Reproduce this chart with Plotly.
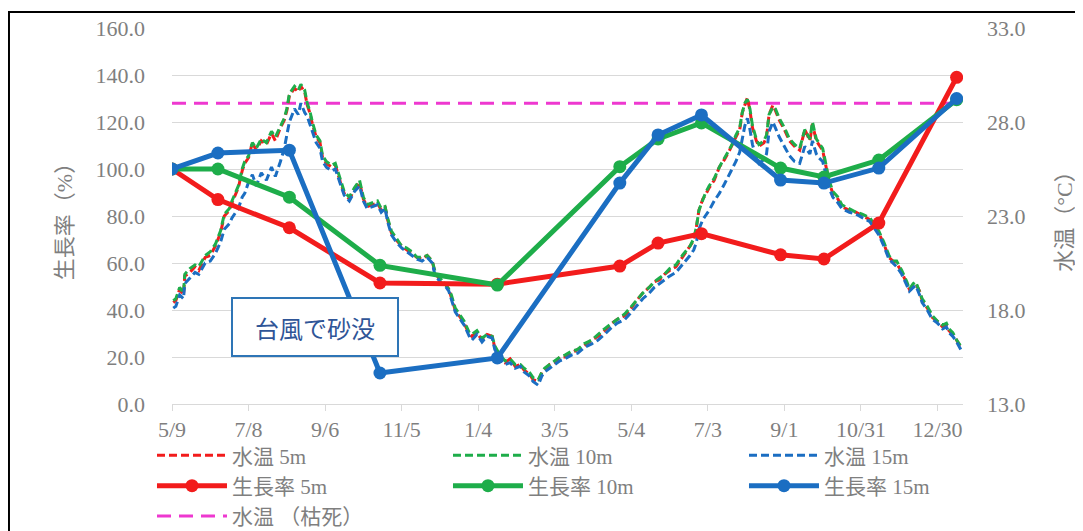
import plotly.graph_objects as go
import pandas as pd

start = pd.Timestamp("2018-05-09")

# water temperature (°C), day offsets from 5/9
temp_day = [1, 3, 6, 9, 10, 14, 18, 21, 26, 30, 34, 38, 41, 45, 47, 52, 55, 57, 60, 63,
            66, 70, 74, 78, 81, 85, 88, 90, 92, 96, 99, 101, 104, 106, 108, 110, 113, 116, 118, 121,
            125, 128, 132, 135, 139, 143, 147, 150, 153, 157, 161, 164, 167, 169, 172, 176, 180, 184, 188, 192,
            196, 200, 204, 206, 210, 214, 217, 219, 222, 226, 229, 233, 235, 239, 243, 247, 251, 253, 257, 261,
            265, 269, 273, 276, 280, 283, 287, 290, 292, 296, 300, 304, 308, 313, 318, 323, 329, 334, 339, 345,
            349, 355, 359, 363, 369, 374, 378, 382, 386, 390, 395, 400, 406, 409, 411, 413, 416, 418, 421, 425,
            429, 433, 437, 439, 442, 445, 447, 449, 451, 453, 455, 458, 460, 464, 466, 468, 471, 473, 476, 480,
            484, 488, 492, 496, 500, 502, 505, 507, 510, 513, 515, 518, 522, 525, 531, 536, 541, 547, 551, 554,
            558, 562, 565, 568, 572, 576, 578, 581, 583, 586, 588, 592, 596, 600, 604, 607, 609, 612, 615, 619]

temp_5m = [18.4, 18.5, 19.1, 18.8, 19.8, 20.0, 20.3, 20.1, 20.8, 20.9, 21.4, 22.1, 23.0, 23.3, 23.7, 24.5, 25.4, 25.8, 26.1, 26.9,
           26.5, 27.0, 26.8, 27.4, 27.0, 27.7, 28.1, 28.6, 29.4, 29.8, 29.6, 29.9, 29.6, 28.9, 28.5, 27.9, 27.2, 26.9, 26.1, 25.8,
           25.6, 25.7, 24.8, 24.2, 23.9, 24.4, 24.8, 23.9, 23.5, 23.6, 23.7, 23.3, 23.5, 22.8, 22.1, 21.7, 21.4, 21.2, 21.0, 20.8,
           20.7, 20.9, 20.6, 20.0, 19.6, 19.4, 19.1, 18.7, 18.0, 17.6, 17.3, 16.7, 16.6, 16.8, 16.4, 16.7, 16.6, 16.0, 15.5, 15.2,
           15.4, 15.0, 15.1, 14.8, 14.6, 14.3, 14.2, 14.7, 14.8, 15.1, 15.2, 15.5, 15.5, 15.7, 15.9, 16.1, 16.4, 16.6, 16.9, 17.3,
           17.5, 17.7, 18.0, 18.4, 18.9, 19.2, 19.5, 19.6, 19.9, 20.1, 20.3, 20.8, 21.4, 21.7, 22.4, 23.3, 23.9, 24.1, 24.5, 24.9,
           25.6, 26.0, 26.5, 26.8, 27.2, 27.6, 28.5, 28.9, 29.3, 28.6, 27.7, 27.0, 26.7, 26.9, 27.2, 28.4, 28.9, 28.6, 28.1, 27.6,
           27.0, 26.7, 26.5, 27.6, 27.0, 27.9, 27.0, 26.8, 26.5, 25.5, 24.8, 24.2, 23.9, 23.5, 23.3, 23.2, 23.0, 22.8, 22.4, 22.1,
           21.5, 20.8, 20.6, 20.5, 20.0, 19.4, 19.1, 19.3, 19.4, 19.0, 18.5, 18.1, 17.6, 17.4, 17.1, 17.2, 16.9, 16.7, 16.4, 15.9]

temp_10m = [18.5, 18.6, 19.2, 18.9, 19.9, 20.2, 20.4, 20.3, 20.9, 21.1, 21.5, 22.2, 23.1, 23.4, 23.8, 24.6, 25.5, 25.9, 26.2, 26.9,
            26.6, 27.1, 26.9, 27.5, 27.2, 27.8, 28.2, 28.7, 29.5, 29.9, 29.7, 30.0, 29.7, 29.0, 28.6, 28.0, 27.3, 27.0, 26.2, 25.9,
            25.7, 25.8, 24.9, 24.3, 24.0, 24.5, 24.9, 24.0, 23.6, 23.7, 23.8, 23.4, 23.5, 22.9, 22.2, 21.8, 21.4, 21.3, 21.1, 20.8,
            20.8, 20.9, 20.6, 20.1, 19.7, 19.4, 19.1, 18.8, 18.1, 17.7, 17.4, 16.8, 16.7, 16.9, 16.5, 16.7, 16.6, 16.1, 15.6, 15.3,
            15.4, 15.1, 15.1, 14.9, 14.7, 14.4, 14.3, 14.7, 14.9, 15.1, 15.3, 15.5, 15.6, 15.8, 15.9, 16.2, 16.4, 16.7, 17.0, 17.3,
            17.5, 17.8, 18.1, 18.4, 18.9, 19.2, 19.5, 19.7, 19.9, 20.2, 20.4, 20.9, 21.4, 21.8, 22.4, 23.3, 23.9, 24.2, 24.6, 25.0,
            25.6, 26.1, 26.6, 26.8, 27.3, 27.7, 28.5, 29.0, 29.2, 28.7, 27.8, 27.1, 26.8, 27.0, 27.3, 28.4, 28.8, 28.7, 28.2, 27.7,
            27.1, 26.8, 26.6, 27.6, 27.1, 28.0, 27.1, 26.9, 26.6, 25.6, 24.9, 24.3, 24.0, 23.6, 23.4, 23.2, 23.1, 22.9, 22.5, 22.2,
            21.6, 20.9, 20.6, 20.6, 20.1, 19.5, 19.1, 19.4, 19.5, 19.0, 18.6, 18.2, 17.7, 17.4, 17.2, 17.3, 17.0, 16.8, 16.4, 16.0]

temp_15m = [18.1, 18.2, 18.8, 18.6, 19.4, 19.7, 20.0, 19.9, 20.5, 20.6, 21.0, 21.6, 22.3, 22.6, 22.9, 23.4, 24.0, 24.2, 24.8, 25.2,
            24.6, 25.3, 24.9, 25.6, 25.1, 25.9, 26.6, 27.3, 28.0, 28.7, 28.4, 29.0, 28.5, 28.3, 27.9, 27.5, 26.9, 26.6, 25.9, 25.6,
            25.4, 25.5, 24.7, 24.1, 23.8, 24.3, 24.6, 23.8, 23.4, 23.5, 23.6, 23.2, 23.4, 22.7, 22.0, 21.6, 21.3, 21.1, 20.9, 20.7,
            20.6, 20.8, 20.5, 19.9, 19.5, 19.3, 19.0, 18.6, 17.9, 17.5, 17.2, 16.6, 16.4, 16.7, 16.3, 16.6, 16.5, 15.9, 15.4, 15.1,
            15.2, 14.9, 15.0, 14.7, 14.5, 14.2, 14.0, 14.5, 14.7, 14.9, 15.1, 15.3, 15.4, 15.6, 15.7, 16.0, 16.2, 16.4, 16.7, 17.1,
            17.3, 17.5, 17.8, 18.1, 18.6, 18.9, 19.2, 19.4, 19.6, 19.8, 20.0, 20.4, 20.9, 21.2, 21.6, 22.3, 22.8, 23.0, 23.3, 23.8,
            24.2, 24.7, 25.2, 25.5, 25.9, 26.4, 27.2, 27.8, 28.2, 27.6, 26.8, 26.1, 25.8, 26.0, 26.3, 27.5, 28.0, 27.7, 27.2, 26.7,
            26.2, 25.9, 25.8, 26.7, 26.3, 27.0, 26.3, 26.1, 25.9, 25.1, 24.5, 24.0, 23.7, 23.4, 23.2, 23.1, 22.9, 22.7, 22.3, 22.0,
            21.4, 20.7, 20.5, 20.3, 19.9, 19.3, 19.0, 19.2, 19.3, 18.8, 18.4, 18.0, 17.5, 17.3, 17.0, 17.1, 16.8, 16.6, 16.3, 15.8]

# growth rate (%) survey days
growth_day = [0, 36, 92, 163, 255, 351, 381, 415, 477, 511, 554, 615]
growth_5m = [100, 87, 75, 51.5, 51, 58.7, 68.5, 72.5, 63.5, 61.7, 77, 139]
growth_10m = [100, 100, 88, 59, 50.6, 101, 112.8, 119.6, 100.4, 96.6, 103.8, 129.5]
growth_15m = [100, 106.8, 108, 13.2, 19.6, 94, 114.5, 123, 95.3, 94, 100.4, 130]

dead_day = [0, 620]
dead_temp = [29.0, 29.0]

assert len(temp_day) == len(temp_5m) == len(temp_10m) == len(temp_15m)

def to_dates(days):
    return [start + pd.Timedelta(days=d) for d in days]

RED = "#F21C1C"
GREEN = "#1EAD4A"
BLUE = "#1B6EC2"
MAGENTA = "#EE38D0"
GRAY = "#7F7F7F"
SERIF = "Liberation Serif, Noto Sans CJK JP"

fig = go.Figure()

fig.add_trace(go.Scatter(x=to_dates(dead_day), y=dead_temp, mode="lines", name="水温 （枯死）",
                         yaxis="y", legendrank=7,
                         line=dict(color=MAGENTA, width=3, dash="14px,8px")))

for name, vals, col, rank in [("水温 5m", temp_5m, RED, 1), ("水温 10m", temp_10m, GREEN, 2),
                              ("水温 15m", temp_15m, BLUE, 3)]:
    fig.add_trace(go.Scatter(x=to_dates(temp_day), y=vals, mode="lines", name=name, yaxis="y",
                             legendrank=rank,
                             line=dict(color=col, width=3, dash="8px,4px")))

for name, vals, col, rank in [("生長率 5m", growth_5m, RED, 4), ("生長率 10m", growth_10m, GREEN, 5),
                              ("生長率 15m", growth_15m, BLUE, 6)]:
    fig.add_trace(go.Scatter(x=to_dates(growth_day), y=vals, mode="lines+markers", name=name, yaxis="y2",
                             legendrank=rank,
                             line=dict(color=col, width=5), marker=dict(color=col, size=13)))

fig.update_layout(
    width=1075, height=523,
    margin=dict(l=164, r=120, t=20, b=127, autoexpand=False),
    paper_bgcolor="white", plot_bgcolor="white",
    font=dict(family=SERIF, color=GRAY, size=22),
    xaxis=dict(type="date", range=[start, start + pd.Timedelta(days=620)],
               tick0=start, dtick=60 * 86400000, tickformat="%-m/%-d",
               showgrid=False, zeroline=False, showline=True, linecolor="#D9D9D9", linewidth=1,
               ticks="outside", ticklen=6, tickcolor="#D9D9D9", automargin=False,
               tickfont=dict(family=SERIF, size=22, color=GRAY)),
    yaxis=dict(range=[13, 33], tick0=13, dtick=5, tickformat=".1f", side="right",
               showgrid=False, zeroline=False, showline=False, automargin=False,
               ticks="", ticklabelstandoff=23,
               tickfont=dict(family=SERIF, size=22, color=GRAY),
               title=dict(text="水温（°C）", standoff=32,
                          font=dict(family=SERIF, size=22, color=GRAY))),
    yaxis2=dict(range=[0, 160], tick0=0, dtick=20, tickformat=".1f", side="left", overlaying="y",
                showgrid=True, gridcolor="#D9D9D9", gridwidth=1, zeroline=False, showline=False,
                automargin=False, ticks="", ticklabelstandoff=26,
                tickfont=dict(family=SERIF, size=22, color=GRAY),
                title=dict(text="生長率（%）", standoff=16,
                           font=dict(family=SERIF, size=22, color=GRAY))),
    legend=dict(orientation="h", x=-0.0253, y=-0.083, xanchor="left", yanchor="top",
                entrywidth=211, entrywidthmode="pixels", itemwidth=70,
                font=dict(family=SERIF, size=21, color=GRAY), tracegroupgap=0,
                bgcolor="rgba(0,0,0,0)"),
    showlegend=True,
)

fig.add_annotation(text="台風で砂没", xref="paper", yref="paper", x=0.1808, y=0.206,
                   xanchor="center", yanchor="middle", showarrow=False,
                   width=162, height=54, borderpad=1,
                   bordercolor="#2E75B6", borderwidth=2, bgcolor="white",
                   font=dict(family="Noto Sans CJK JP", size=24, color="#2F5597"))

fig.add_shape(type="rect", xref="paper", yref="paper", x0=-0.2061, x1=1.16, y0=-0.5, y1=1.0426,
              line=dict(color="black", width=2), fillcolor="rgba(0,0,0,0)", layer="above")

fig.write_html("out.html")
